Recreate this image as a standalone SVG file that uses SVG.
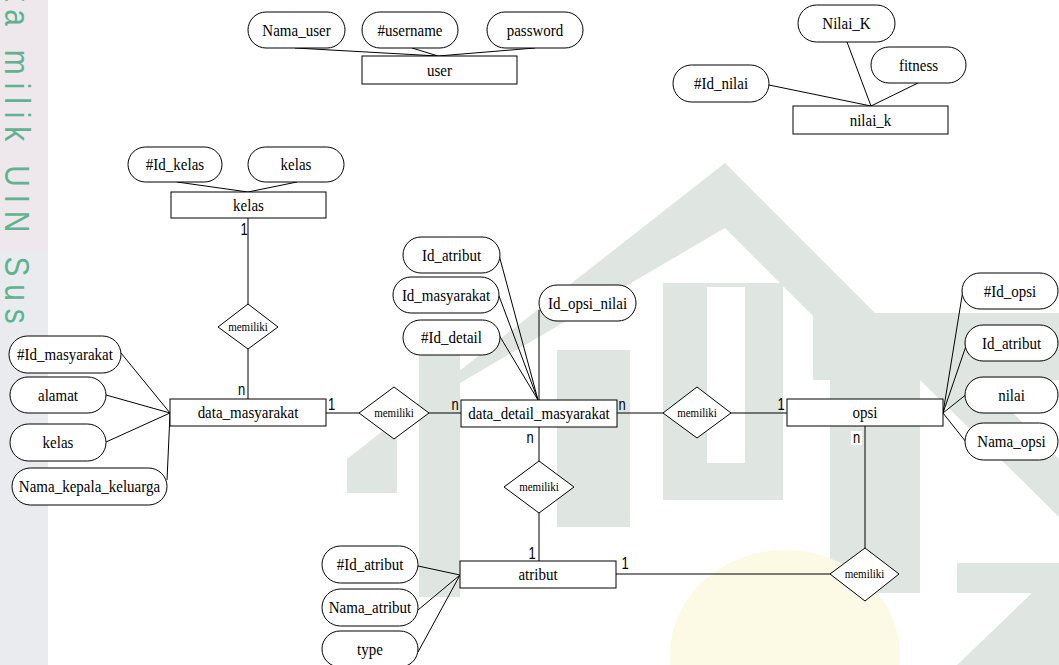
<svg xmlns="http://www.w3.org/2000/svg" width="1059" height="665" viewBox="0 0 1059 665">
<style>
.wm{fill:#dfe6e1;stroke:none}
.ent rect,.attr rect,.rel polygon{fill:#fff;stroke:#000;stroke-width:1}
.ln line{stroke:#000;stroke-width:1}
.t{font-family:"Liberation Serif","Times New Roman",serif;font-size:15px;text-anchor:middle;fill:#000}
.r{font-family:"Liberation Serif","Times New Roman",serif;font-size:11px;text-anchor:middle;fill:#000}
.c{font-family:"Liberation Sans",Arial,sans-serif;font-size:13px;text-anchor:middle;fill:#000}
</style>
<rect width="1059" height="665" fill="#fff"/>
<g id="watermark">
<rect x="0" y="0" width="48" height="665" fill="#e9ebef"/>
<rect x="0" y="0" width="48" height="250" fill="#f1e6ea" opacity="0.6"/>
<text transform="translate(5,-7) rotate(90) scale(0.83,1)" font-family="Liberation Sans,Arial,sans-serif" font-size="36" letter-spacing="9.5" fill="#5fb38f">ta milik UIN Sus</text>
<polygon class="wm" points="347,459 347,493 397,493 397,420 725,228 813,316 813,380 1059,380 1059,313 875,313 725,163"/>
<rect class="wm" x="419" y="353" width="41" height="244"/>
<path class="wm" d="M663 283 H783 V500 H663 Z M707 287 V463 H745 V287 Z" fill-rule="evenodd"/>
<rect class="wm" x="557" y="350" width="73" height="177"/>
<rect class="wm" x="830" y="380" width="90" height="213"/>
<polygon class="wm" points="920,380 980,380 1059,459 1059,517"/>
<rect class="wm" x="957" y="563" width="102" height="30"/>
<polygon class="wm" points="957,665 1059,567 1059,665"/>
<ellipse cx="785" cy="655" rx="115" ry="105" fill="#fcf9e4"/>
</g>
<g id="connectors" class="ln">
<line x1="295" y1="48" x2="438" y2="56"/>
<line x1="412" y1="48" x2="438" y2="56"/>
<line x1="535" y1="48" x2="438" y2="56"/>
<line x1="769" y1="85" x2="871" y2="106"/>
<line x1="847" y1="42" x2="871" y2="106"/>
<line x1="918" y1="83" x2="871" y2="106"/>
<line x1="177" y1="182" x2="248" y2="192"/>
<line x1="297" y1="182" x2="248" y2="192"/>
<line x1="121" y1="353" x2="170" y2="413"/>
<line x1="106" y1="395" x2="170" y2="413"/>
<line x1="106" y1="442" x2="170" y2="413"/>
<line x1="167" y1="480" x2="170" y2="414"/>
<line x1="499" y1="255" x2="538" y2="400"/>
<line x1="499" y1="296" x2="538" y2="400"/>
<line x1="499" y1="335" x2="538" y2="400"/>
<line x1="539" y1="310" x2="539" y2="400"/>
<line x1="963" y1="290" x2="943" y2="413"/>
<line x1="967" y1="343" x2="943" y2="413"/>
<line x1="968" y1="393" x2="943" y2="413"/>
<line x1="966" y1="442" x2="943" y2="413"/>
<line x1="418" y1="566" x2="460" y2="575"/>
<line x1="418" y1="610" x2="460" y2="575"/>
<line x1="418" y1="652" x2="460" y2="575"/>
<line x1="248" y1="218" x2="248" y2="304"/>
<line x1="248" y1="349" x2="248" y2="399"/>
<line x1="326" y1="413" x2="359" y2="413"/>
<line x1="429" y1="413" x2="461" y2="413"/>
<line x1="617" y1="413" x2="663" y2="413"/>
<line x1="731" y1="413" x2="787" y2="413"/>
<line x1="539" y1="427" x2="539" y2="461"/>
<line x1="539" y1="513" x2="539" y2="561"/>
<line x1="616" y1="574" x2="830" y2="574"/>
<line x1="865" y1="426" x2="865" y2="548"/>
</g>
<g id="cardinality">
<text class="c" transform="translate(244,235) scale(1,1.2)">1</text>
<text class="c" transform="translate(241.5,395) scale(1,1.2)">n</text>
<text class="c" transform="translate(331.5,410) scale(1,1.2)">1</text>
<text class="c" transform="translate(455,410) scale(1,1.2)">n</text>
<text class="c" transform="translate(622,410) scale(1,1.2)">n</text>
<text class="c" transform="translate(530,443) scale(1,1.2)">n</text>
<text class="c" transform="translate(781,410) scale(1,1.2)">1</text>
<rect x="851" y="431" width="11" height="14" fill="#fff"/>
<text class="c" transform="translate(856.5,443) scale(1,1.2)">n</text>
<text class="c" transform="translate(532,559) scale(1,1.2)">1</text>
<text class="c" transform="translate(625,569) scale(1,1.2)">1</text>
</g>
<g id="user" class="ent"><rect x="362" y="56" width="155" height="28"/><text class="t" transform="translate(439.5,75.8) scale(1,1.15)">user</text></g>
<g id="nilai_k" class="ent"><rect x="793" y="106" width="155" height="28"/><text class="t" transform="translate(870.5,125.8) scale(1,1.15)">nilai_k</text></g>
<g id="kelas" class="ent"><rect x="171" y="192" width="155" height="26"/><text class="t" transform="translate(248.5,210.8) scale(1,1.15)">kelas</text></g>
<g id="data_masyarakat" class="ent"><rect x="170" y="399" width="156" height="27"/><text class="t" transform="translate(248,418.3) scale(1,1.15)">data_masyarakat</text></g>
<g id="data_detail_masyarakat" class="ent"><rect x="461" y="400" width="156" height="27"/><text class="t" transform="translate(539,419.3) scale(1,1.15)">data_detail_masyarakat</text></g>
<g id="opsi" class="ent"><rect x="787" y="399" width="156" height="27"/><text class="t" transform="translate(865,418.3) scale(1,1.15)">opsi</text></g>
<g id="atribut" class="ent"><rect x="460" y="561" width="156" height="27"/><text class="t" transform="translate(538,580.3) scale(1,1.15)">atribut</text></g>
<g id="a_nama_user" class="attr"><rect x="248" y="12" width="97" height="36" rx="18"/><text class="t" transform="translate(296.5,35.8) scale(1,1.15)">Nama_user</text></g>
<g id="a_username" class="attr"><rect x="362" y="12" width="96" height="36" rx="18"/><text class="t" transform="translate(410,35.8) scale(1,1.15)">#username</text></g>
<g id="a_password" class="attr"><rect x="487" y="12" width="96" height="36" rx="18"/><text class="t" transform="translate(535,35.8) scale(1,1.15)">password</text></g>
<g id="a_nilai_K" class="attr"><rect x="798" y="5" width="97" height="37" rx="18.5"/><text class="t" transform="translate(846.5,29.3) scale(1,1.15)">Nilai_K</text></g>
<g id="a_fitness" class="attr"><rect x="871" y="47" width="95" height="36" rx="18"/><text class="t" transform="translate(918.5,70.8) scale(1,1.15)">fitness</text></g>
<g id="a_id_nilai" class="attr"><rect x="673" y="65" width="96" height="37" rx="18.5"/><text class="t" transform="translate(721,89.3) scale(1,1.15)">#Id_nilai</text></g>
<g id="a_id_kelas" class="attr"><rect x="128" y="147" width="94" height="35" rx="17.5"/><text class="t" transform="translate(175,170.3) scale(1,1.15)">#Id_kelas</text></g>
<g id="a_kelas" class="attr"><rect x="248" y="147" width="96" height="35" rx="17.5"/><text class="t" transform="translate(296,170.3) scale(1,1.15)">kelas</text></g>
<g id="a_id_masyarakat" class="attr"><rect x="9" y="336" width="112" height="37" rx="18.5"/><text class="t" transform="translate(65,360.3) scale(1,1.15)">#Id_masyarakat</text></g>
<g id="a_alamat" class="attr"><rect x="10" y="377" width="96" height="36" rx="18"/><text class="t" transform="translate(58,400.8) scale(1,1.15)">alamat</text></g>
<g id="a_kelas2" class="attr"><rect x="10" y="424" width="96" height="37" rx="18.5"/><text class="t" transform="translate(58,448.3) scale(1,1.15)">kelas</text></g>
<g id="a_nama_kk" class="attr"><rect x="12" y="468" width="155" height="37" rx="18.5"/><text class="t" transform="translate(89.5,492.3) scale(1,1.15)">Nama_kepala_keluarga</text></g>
<g id="a_dd_id_atribut" class="attr"><rect x="403" y="237" width="97" height="36" rx="18"/><text class="t" transform="translate(451.5,260.8) scale(1,1.15)">Id_atribut</text></g>
<g id="a_dd_id_masyarakat" class="attr"><rect x="393" y="277" width="106" height="36" rx="18"/><text class="t" transform="translate(446,300.8) scale(1,1.15)">Id_masyarakat</text></g>
<g id="a_id_detail" class="attr"><rect x="403" y="320" width="97" height="35" rx="17.5"/><text class="t" transform="translate(451.5,343.3) scale(1,1.15)">#Id_detail</text></g>
<g id="a_id_opsi_nilai" class="attr"><rect x="539" y="285" width="97" height="36" rx="18"/><text class="t" transform="translate(587.5,308.8) scale(1,1.15)">Id_opsi_nilai</text></g>
<g id="a_id_opsi" class="attr"><rect x="962" y="273" width="96" height="36" rx="18"/><text class="t" transform="translate(1010,296.8) scale(1,1.15)">#Id_opsi</text></g>
<g id="a_op_id_atribut" class="attr"><rect x="965" y="325" width="93" height="36" rx="18"/><text class="t" transform="translate(1011.5,348.8) scale(1,1.15)">Id_atribut</text></g>
<g id="a_nilai" class="attr"><rect x="965" y="377" width="93" height="36" rx="18"/><text class="t" transform="translate(1011.5,400.8) scale(1,1.15)">nilai</text></g>
<g id="a_nama_opsi" class="attr"><rect x="965" y="423" width="93" height="37" rx="18.5"/><text class="t" transform="translate(1011.5,447.3) scale(1,1.15)">Nama_opsi</text></g>
<g id="a_id_atribut" class="attr"><rect x="322" y="546" width="96" height="37" rx="18.5"/><text class="t" transform="translate(370,570.3) scale(1,1.15)">#Id_atribut</text></g>
<g id="a_nama_atribut" class="attr"><rect x="322" y="589" width="96" height="37" rx="18.5"/><text class="t" transform="translate(370,613.3) scale(1,1.15)">Nama_atribut</text></g>
<g id="a_type" class="attr"><rect x="322" y="631" width="96" height="36" rx="18"/><text class="t" transform="translate(370,654.8) scale(1,1.15)">type</text></g>
<g id="rel_kelas_dm" class="rel"><polygon points="218,327 248,304 278,327 248,349"/><text class="r" transform="translate(248,330.5) scale(1,1.15)">memiliki</text></g>
<g id="rel_dm_ddm" class="rel"><polygon points="359,413 394,387 429,413 394,439"/><text class="r" transform="translate(394,416.5) scale(1,1.15)">memiliki</text></g>
<g id="rel_ddm_opsi" class="rel"><polygon points="663,413 697,387 731,413 697,438"/><text class="r" transform="translate(697,416.5) scale(1,1.15)">memiliki</text></g>
<g id="rel_ddm_atribut" class="rel"><polygon points="504,487 539,461 574,487 539,513"/><text class="r" transform="translate(539,490.5) scale(1,1.15)">memiliki</text></g>
<g id="rel_atribut_opsi" class="rel"><polygon points="830,574 865,548 899,574 865,601"/><text class="r" transform="translate(864.5,577.5) scale(1,1.15)">memiliki</text></g>
</svg>
